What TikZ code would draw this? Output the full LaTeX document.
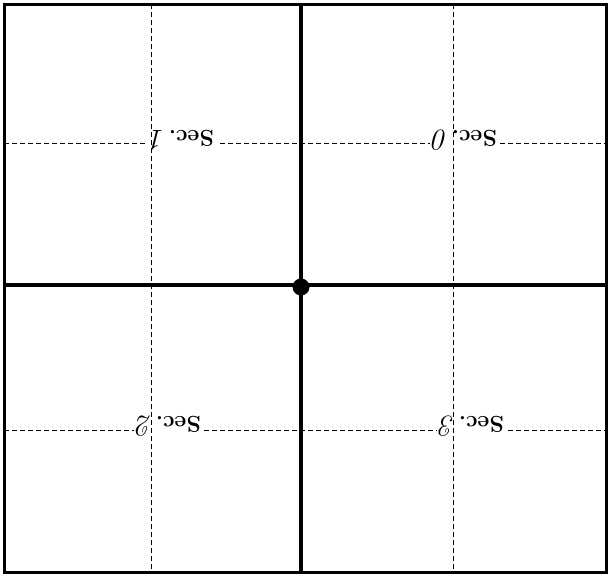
\documentclass[tikz,border=0pt]{standalone}
\begin{document}
\begin{tikzpicture}[x=1pt,y=-1pt,
  frame/.style={line width=3pt},
  axis/.style={line width=3.2pt},
  guide/.style={line width=1pt,dash pattern=on 5pt off 3pt},
  seclabel/.style={rotate=180,fill=white,inner sep=3pt,font=\fontsize{23}{25}\selectfont\bfseries}]
\newcommand{\secdigit}[1]{{\fontsize{30}{30}\selectfont\mdseries\itshape #1}}
\useasboundingbox (0,0) rectangle (613,576);
% corners and key points
\coordinate (tl) at (4,4);
\coordinate (tr) at (606,4);
\coordinate (bl) at (4,572);
\coordinate (br) at (606,572);
\coordinate (ct) at (301,4);
\coordinate (cb) at (301,572);
\coordinate (cl) at (4,285);
\coordinate (cr) at (606,285);
% horizontal guides
\coordinate (h1l) at (4,143);
\coordinate (h1r) at (606,143);
\coordinate (h2l) at (4,430);
\coordinate (h2r) at (606,430);
\draw[guide] (h1l) -- (h1r);
\draw[guide] (h2l) -- (h2r);
% labels
\node[seclabel] (s1) at (182,140) {Sec.\,\secdigit{1}};
\node[seclabel] (s0) at (465,140) {Sec.\,\secdigit{0}};
\node[seclabel] (s2) at (169,426) {Sec.\,\secdigit{2}};
\node[seclabel] (s3) at (472,426) {Sec.\,\secdigit{3}};
% vertical guides
\coordinate (v1t) at (151,4);
\coordinate (v1b) at (151,572);
\coordinate (v2t) at (453,4);
\coordinate (v2b) at (453,572);
\draw[guide] (v1t) -- (v1b);
\draw[guide] (v2t) -- (v2b);
% axes
\draw[axis] (ct) -- (cb);
\draw[axis] (cl) -- (cr);
\fill (301,287) circle (8.5);
% frame
\draw[frame] (tl) rectangle (br);
\end{tikzpicture}
\end{document}
